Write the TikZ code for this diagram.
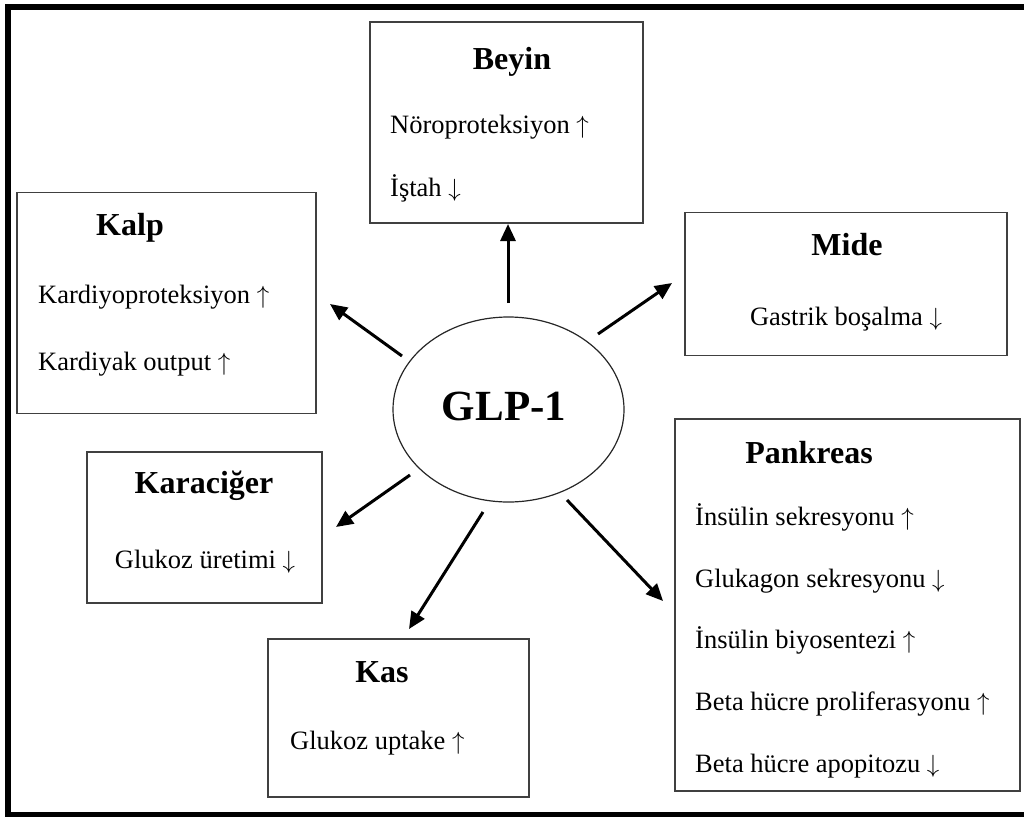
\documentclass[tikz,border=0pt]{standalone}
\usepackage{fontspec}
\setmainfont{Liberation Serif}
\usetikzlibrary{
  arrows.meta,
  positioning,
  shapes.geometric,
}
\newcommand{\incr}{$\uparrow$}
\newcommand{\decr}{$\downarrow$}
\tikzset{
  >={Triangle[length=17pt,width=15pt]},
  organ/.style={draw=black!75,line width=1.4pt,rectangle,inner sep=0pt},
  organtitle/.style={font=\fontsize{32}{38}\selectfont\bfseries,inner sep=0pt,anchor=base},
  effect/.style={font=\fontsize{26.5}{32}\selectfont,inner sep=0pt,anchor=base west},
  effectmid/.style={font=\fontsize{26.5}{32}\selectfont,inner sep=0pt,anchor=base},
  link/.style={->,line width=3pt},
}

\begin{document}
\begin{tikzpicture}[x=1pt,y=-1pt]

        \useasboundingbox (0,0) rectangle (1024,816);
        \clip (0,0) rectangle (1024,816);
        \draw[line width=6pt] (8,7) rectangle (1032,815);

        % GLP-1 in the middle
        \node[draw=black!85,line width=1.2pt,ellipse,minimum width=231,minimum height=185,inner sep=0pt] (glp) at (508.5,409.5) {};
        \node[font=\fontsize{43}{50}\selectfont\bfseries,inner sep=0pt,anchor=base] (glpt) at (504,420) {GLP-1};

        % organ boxes
        \node[organ,minimum width=273,minimum height=201] (beyin) at (506.5,122.5) {};
        \node[organ,minimum width=299,minimum height=221] (kalp) at (166.5,303) {};
        \node[organ,minimum width=322,minimum height=143] (mide) at (846,284) {};
        \node[organ,minimum width=235,minimum height=151] (karaciger) at (204.5,527.5) {};
        \node[organ,minimum width=261,minimum height=158] (kas) at (398.5,718) {};
        \node[organ,minimum width=345,minimum height=372] (pankreas) at (847.5,605) {};

        % texts
        \node[organtitle] (beyint) at (512,69) {Beyin};
        \node[effect] (beyin1) at (390,133) {Nöroproteksiyon \incr};
        \node[effect] (beyin2) at (390,196) {İştah \decr};

        \node[organtitle] (kalpt) at (130,235) {Kalp};
        \node[effect] (kalp1) at (38,303) {Kardiyoproteksiyon \incr};
        \node[effect] (kalp2) at (38,370) {Kardiyak output \incr};

        \node[organtitle] (midet) at (847,255) {Mide};
        \node[effectmid] (mide1) at (846,325) {Gastrik boşalma \decr};

        \node[organtitle] (karacigert) at (204,493) {Karaciğer};
        \node[effectmid] (karaciger1) at (205,568) {Glukoz üretimi \decr};

        \node[organtitle] (kast) at (382,682) {Kas};
        \node[effect] (kas1) at (290,749) {Glukoz uptake \incr};

        \node[organtitle] (pankreast) at (809,463) {Pankreas};
        \node[effect] (pankreas1) at (695,525) {İnsülin sekresyonu \incr};
        \node[effect] (pankreas2) at (695,587) {Glukagon sekresyonu \decr};
        \node[effect] (pankreas3) at (695,648) {İnsülin biyosentezi \incr};
        \node[effect] (pankreas4) at (695,710) {Beta hücre proliferasyonu \incr};
        \node[effect] (pankreas5) at (695,772) {Beta hücre apopitozu \decr};

        % arrow ends
        \coordinate (gbeyin) at (508,303);
        \coordinate (tbeyin) at (508,224);
        \coordinate (gkalp) at (402,356);
        \coordinate (tkalp) at (330,304);
        \coordinate (gmide) at (598,334);
        \coordinate (tmide) at (672,283);
        \coordinate (gkaraciger) at (410,475);
        \coordinate (tkaraciger) at (336,527);
        \coordinate (gkas) at (483,512);
        \coordinate (tkas) at (409,629);
        \coordinate (gpankreas) at (567,500);
        \coordinate (tpankreas) at (663,601);

        \draw[link] (gbeyin) -- (tbeyin);
        \draw[link] (gkalp) -- (tkalp);
        \draw[link] (gmide) -- (tmide);
        \draw[link] (gkaraciger) -- (tkaraciger);
        \draw[link] (gkas) -- (tkas);
        \draw[link] (gpankreas) -- (tpankreas);

    \end{tikzpicture}
\end{document}
